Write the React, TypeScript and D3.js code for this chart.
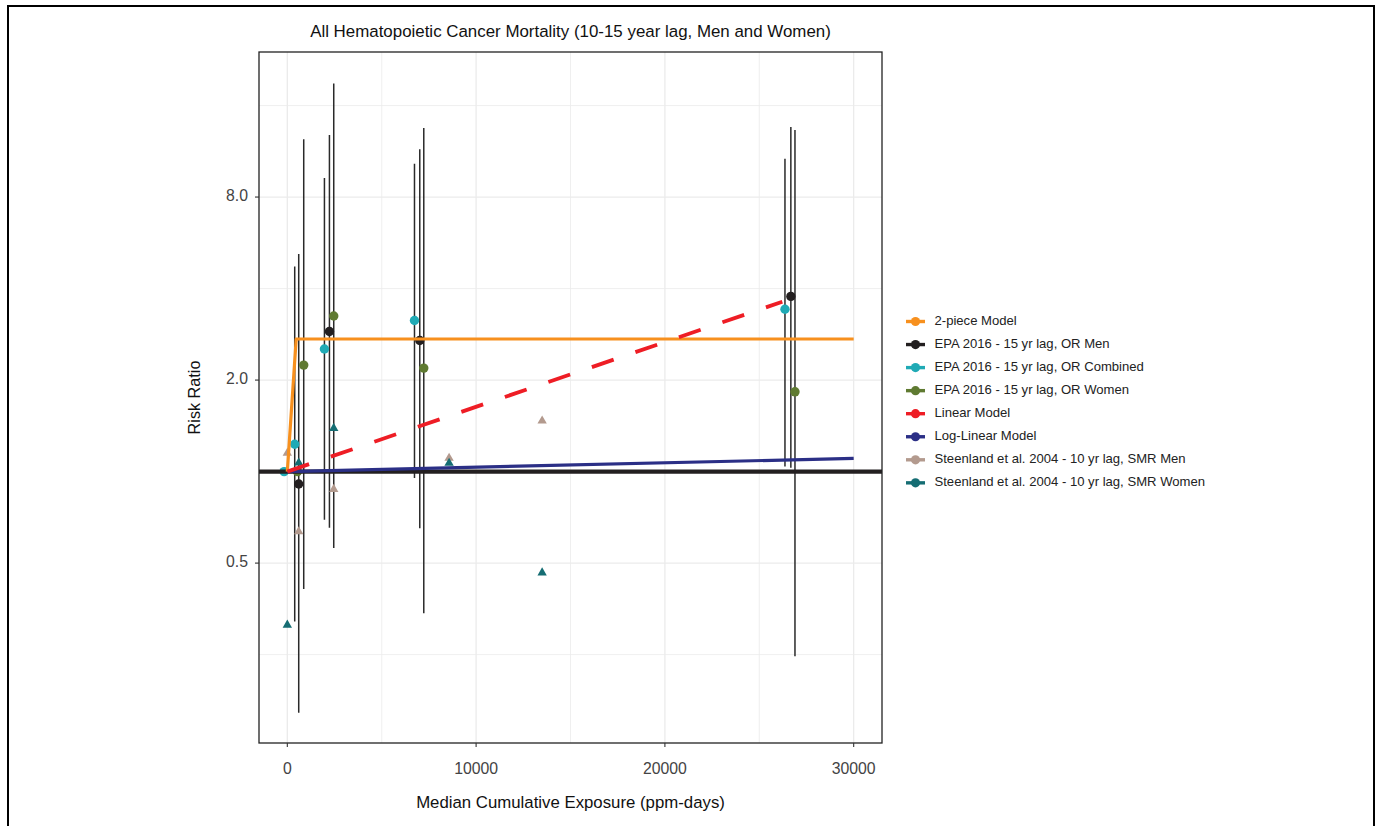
import React from "react";
import * as d3 from "d3";

// ---------- data ----------
const epaMenX = [604, 2231, 7016, 26672];
const epaMenOR = [0.91, 2.89, 2.7, 3.77];
const epaMenLower = [0.161, 0.653, 0.651, 1.03];
const epaMenUpper = [5.2, 12.8, 11.5, 13.6];

const epaCombinedX = [-170, 392, 1966, 6736, 26360];
const epaCombinedOR = [1, 1.23, 2.53, 3.14, 3.42];
const epaCombinedLower = [NaN, 0.321, 0.694, 0.953, 1.04];
const epaCombinedUpper = [NaN, 4.73, 9.25, 10.3, 10.7];

const epaWomenX = [535, 869, 2459, 7228, 26890];
const epaWomenOR = [1, 2.24, 3.25, 2.19, 1.83];
const epaWomenLower = [NaN, 0.411, 0.561, 0.342, 0.247];
const epaWomenUpper = [NaN, 12.4, 18.9, 13.5, 13.3];

const smrX = [0, 604, 2459, 8569, 13498];
const smrMen = [1.15, 0.635, 0.875, 1.107, 1.468];
const smrWomen = [0.313, 1.068, 1.389, 1.066, 0.465];

const twoPieceX = [0, 470, 30000];
const twoPieceRR = [1, 2.73, 2.73];
const linearX = [0, 26220];
const linearRR = [1, 3.62];
const logLinearX = [0, 30000];
const logLinearRR = [1, 1.105];

const xTicks = [0, 10000, 20000, 30000];
const xMinor = [5000, 15000, 25000];
const yTicks = [0.5, 2, 8];
const yMinor = [0.25, 1, 4, 16];

const legendLabels = [
  "2-piece Model",
  "EPA 2016 - 15 yr lag, OR Men",
  "EPA 2016 - 15 yr lag, OR Combined",
  "EPA 2016 - 15 yr lag, OR Women",
  "Linear Model",
  "Log-Linear Model",
  "Steenland et al. 2004 - 10 yr lag, SMR Men",
  "Steenland et al. 2004 - 10 yr lag, SMR Women",
];
const legendColors = [
  "#F7901E",
  "#231F20",
  "#1FAAB5",
  "#5F7A31",
  "#EE1D25",
  "#2B2F86",
  "#B39A8E",
  "#156D73",
];

const FONT = "'Liberation Sans', Arial, Helvetica, sans-serif";

export default function App() {
  const W = 1382;
  const H = 826;
  const pL = 259, pR = 882, pT = 52, pB = 743;
  const x = d3.scaleLinear().domain([-1500, 31500]).range([pL, pR]);
  const y = d3.scaleLog().domain([0.128, 24.0]).range([pB, pT]);

  const line = d3
    .line<[number, number]>()
    .x((d) => x(d[0]))
    .y((d) => y(d[1]));

  const zip = (a: number[], b: number[]) => a.map((v, i) => [v, b[i]] as [number, number]);

  const tri = d3.symbol().type(d3.symbolTriangle).size(38)() as string;

  const errBars: { x: number; lo: number; hi: number }[] = [];
  [
    [epaCombinedX, epaCombinedLower, epaCombinedUpper],
    [epaMenX, epaMenLower, epaMenUpper],
    [epaWomenX, epaWomenLower, epaWomenUpper],
  ].forEach(([xs, lo, hi]) => {
    xs.forEach((v, i) => {
      if (!isNaN(lo[i])) errBars.push({ x: v, lo: lo[i], hi: hi[i] });
    });
  });

  const circleSeries = [
    { xs: epaCombinedX, ys: epaCombinedOR, color: legendColors[2] },
    { xs: epaWomenX, ys: epaWomenOR, color: legendColors[3] },
    { xs: epaMenX, ys: epaMenOR, color: legendColors[1] },
  ];

  return (
    <svg
      width={W}
      height={H}
      style={{ position: "absolute", left: 0, top: 0, background: "#fff" }}
      fontFamily={FONT}
    >
      <rect x={0} y={0} width={W} height={H} fill="#fff" />
      {/* outer frame */}
      <path d={`M8,${H + 5} V6 H1374 V${H + 5}`} fill="none" stroke="#000" strokeWidth={2} />

      {/* title */}
      <text x={(pL + pR) / 2} y={33} textAnchor="middle" dominantBaseline="middle" fontSize={16.9} fill="#111">
        All Hematopoietic Cancer Mortality (10-15 year lag, Men and Women)
      </text>

      {/* grid */}
      <g>
        {xMinor.map((t) => (
          <line key={"xm" + t} x1={x(t)} x2={x(t)} y1={pT} y2={pB} stroke="#EBEBEB" strokeWidth={0.8} />
        ))}
        {yMinor.map((t) => (
          <line key={"ym" + t} x1={pL} x2={pR} y1={y(t)} y2={y(t)} stroke="#EBEBEB" strokeWidth={0.8} />
        ))}
        {xTicks.map((t) => (
          <line key={"xg" + t} x1={x(t)} x2={x(t)} y1={pT} y2={pB} stroke="#EBEBEB" strokeWidth={1.3} />
        ))}
        {yTicks.map((t) => (
          <line key={"yg" + t} x1={pL} x2={pR} y1={y(t)} y2={y(t)} stroke="#EBEBEB" strokeWidth={1.3} />
        ))}
      </g>

      {/* error bars */}
      {errBars.map((e, i) => (
        <line key={"eb" + i} x1={x(e.x)} x2={x(e.x)} y1={y(e.lo)} y2={y(e.hi)} stroke="#2a2a2a" strokeWidth={1.5} />
      ))}

      {/* EPA points */}
      {circleSeries.map((s, si) =>
        s.xs.map((v, i) => (
          <circle key={"c" + si + "-" + i} cx={x(v)} cy={y(s.ys[i])} r={4.7} fill={s.color} />
        ))
      )}

      {/* SMR triangles */}
      {smrX.map((v, i) => (
        <path key={"tm" + i} d={tri} transform={`translate(${x(v)},${y(smrMen[i])})`} fill={legendColors[6]} />
      ))}
      {smrX.map((v, i) => (
        <path key={"tw" + i} d={tri} transform={`translate(${x(v)},${y(smrWomen[i])})`} fill={legendColors[7]} />
      ))}

      {/* reference line RR = 1 */}
      <line x1={pL} x2={pR} y1={y(1)} y2={y(1)} stroke="#231F20" strokeWidth={4.2} />

      {/* models */}
      <path d={line(zip(logLinearX, logLinearRR)) as string} fill="none" stroke={legendColors[5]} strokeWidth={3.2} />
      <path d={line(zip(twoPieceX, twoPieceRR)) as string} fill="none" stroke={legendColors[0]} strokeWidth={3.2} strokeLinejoin="round" />
      <path
        d={line(zip(linearX, linearRR)) as string}
        fill="none"
        stroke={legendColors[4]}
        strokeWidth={3.8}
        strokeDasharray="23 23"
      />

      {/* panel border */}
      <rect x={pL} y={pT} width={pR - pL} height={pB - pT} fill="none" stroke="#222" strokeWidth={1.3} />

      {/* y axis */}
      {yTicks.map((t) => (
        <g key={"yt" + t}>
          <line x1={pL - 4} x2={pL} y1={y(t)} y2={y(t)} stroke="#333" strokeWidth={1.1} />
          <text x={pL - 11} y={y(t)} textAnchor="end" dominantBaseline="middle" fontSize={15.8} fill="#444">
            {d3.format(".1f")(t)}
          </text>
        </g>
      ))}
      {/* x axis */}
      {xTicks.map((t) => (
        <g key={"xt" + t}>
          <line x1={x(t)} x2={x(t)} y1={pB} y2={pB + 4} stroke="#333" strokeWidth={1.1} />
          <text x={x(t)} y={770} textAnchor="middle" dominantBaseline="middle" fontSize={15.8} fill="#444">
            {String(t)}
          </text>
        </g>
      ))}

      <text x={(pL + pR) / 2} y={804} textAnchor="middle" dominantBaseline="middle" fontSize={16.8} fill="#111">
        Median Cumulative Exposure (ppm-days)
      </text>
      <text
        transform={`translate(196,${(pT + pB) / 2}) rotate(-90)`}
        textAnchor="middle"
        dominantBaseline="middle"
        fontSize={16.2}
        fill="#111"
      >
        Risk Ratio
      </text>

      {/* legend */}
      {legendLabels.map((lab, i) => {
        const cy = 321.5 + i * 23.05;
        return (
          <g key={"lg" + i}>
            <line x1={906} x2={925} y1={cy} y2={cy} stroke={legendColors[i]} strokeWidth={3.4} />
            <circle cx={915.5} cy={cy} r={4.6} fill={legendColors[i]} />
            <text x={934.5} y={cy} dominantBaseline="middle" fontSize={13.1} fill="#222">
              {lab}
            </text>
          </g>
        );
      })}
    </svg>
  );
}
